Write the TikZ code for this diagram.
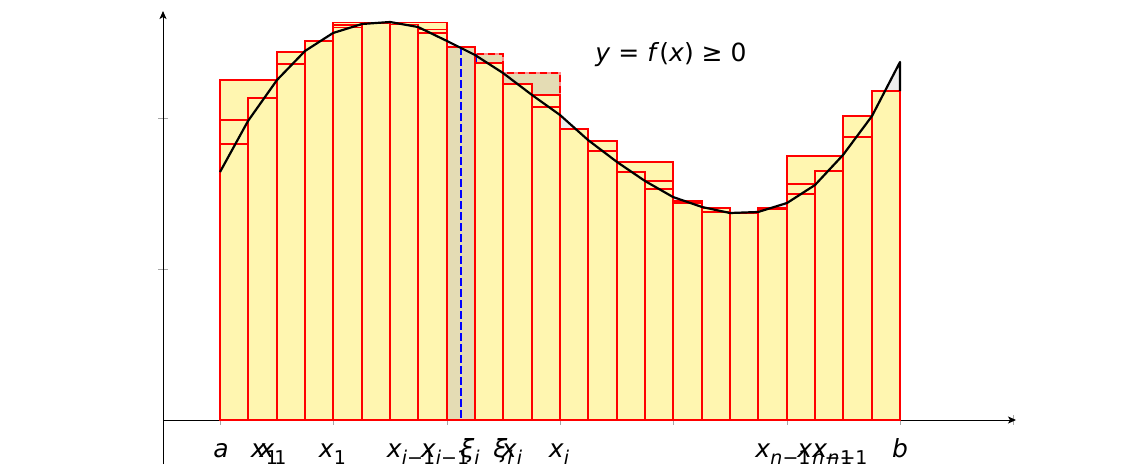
\documentclass[tikz,border=0pt]{standalone}
\usepackage{fontspec}
\setmainfont{DejaVu Sans}
\usetikzlibrary{arrows.meta}
\definecolor{barfill}{HTML}{FFF6B0}
\definecolor{hlfill}{HTML}{E4DCB4}
\definecolor{areafill}{HTML}{EDEDED}

% lowered small text for indices
\newcommand\lsub[1]{\raisebox{-0.28em}{\fontsize{19}{19}\selectfont #1}}
% one bar over fine strips #2..#3, top at #4
\newcommand\riem[4][bar]{\filldraw[#1] ({round(220+85/3*#2)},420) rectangle ({round(220+85/3*#3)},#4);}
\newcommand\curvepath{(220,172) -- (248,121) -- (277,80) -- (305,51) -- (333,33)
  -- (362,24) -- (390,22) -- (418,27) -- (447,41) -- (475,55) -- (503,73)
  -- (532,95) -- (560,115) -- (588,140) -- (617,162) -- (645,181) -- (673,197)
  -- (702,207) -- (730,213) -- (758,212) -- (787,203) -- (815,185) -- (843,155)
  -- (872,116) -- (900,62)}

\begin{document}
\begin{tikzpicture}[x=1pt, y=-1pt,
  bar/.style={fill=barfill, draw=red, line width=1.2pt},
  hl/.style={fill=hlfill, draw=red!45, line width=1.2pt,
             postaction={draw=red, line width=1.2pt, dash pattern=on 7pt off 4pt}},
  hlstrip/.style={fill=hlfill, draw=red, line width=1.2pt},
  curve/.style={line width=2.2pt, line join=round},
  axis/.style={line width=1pt, -{Stealth[length=8pt,width=7pt,inset=2pt]}},
  tick/.style={gray!70, line width=1pt},
  xi/.style={blue, line width=1.6pt, dash pattern=on 8pt off 3pt},
  lbl/.style={anchor=base, inner sep=0pt, font=\fontsize{25}{25}\selectfont},
]
\useasboundingbox (0,0) rectangle (1139,464);

\coordinate (O) at (163,420);
\coordinate (xend) at (1016,420);
\coordinate (ybot) at (163,464);
\coordinate (yend) at (163,11);

% ticks and axes
\foreach \t in {0,...,7}
  \draw[tick] ({round(220+340/3*\t)},415) -- ++(0,10);
\foreach \t in {118,269}
  \draw[tick] (158,\t) -- ++(10,0);
\draw[axis] (O) -- (xend);
\draw[axis] (ybot) -- (yend);

% area under the graph
\fill[areafill] \curvepath -- (900,420) -- (220,420) -- cycle;

% marked strips
\riem[hl]{8}{12}{73}
\riem[hl]{8}{10}{54}
\draw[xi] (476,54) -- (476,420);

% bars, tallest first
\riem{4}{8}{22.5}
\riem{5}{6}{23}
\riem{6}{7}{24.5}
\riem{4}{5}{25}
\riem{4}{5}{27.5}
\riem{7}{8}{29.5}
\riem{7}{8}{33}
\riem{3}{4}{41}
\riem{2}{3}{52}
\riem{9}{10}{63}
\riem{2}{3}{64}
\riem{0}{2}{80}
\riem{10}{11}{84}
\riem{23}{24}{91}
\riem{11}{12}{95}
\riem{1}{2}{98}
\riem{11}{12}{107}
\riem{22}{23}{116}
\riem{0}{1}{120}
\riem{12}{13}{129}
\riem{22}{23}{137}
\riem{13}{14}{141}
\riem{0}{1}{144}
\riem{13}{14}{151}
\riem{20}{22}{156}
\riem{14}{16}{162}
\riem{21}{22}{171}
\riem{14}{15}{172}
\riem{15}{16}{181}
\riem{20}{21}{184}
\riem{15}{16}{189}
\riem{20}{21}{194}
\riem{16}{17}{201}
\riem{16}{17}{203}
\riem{17}{18}{208}
\riem{19}{20}{208}
\riem{19}{20}{209.5}
\riem{17}{18}{212}
\riem{18}{19}{213}

\riem[hlstrip]{8}{9}{47}
\draw[xi] (461,47) -- (461,420);

% graph
\draw[curve] \curvepath -- (900,91);

% labels
\node[lbl] (fx) at (671,61) {\textit{y} = \textit{f}(\textit{x}) ≥ 0};
\node[lbl] (la) at (221,457) {\textit{a}};
\node[lbl] (lx1a) at (264.5,457) {\textit{x}\lsub{1}};
\node[lbl] (lx1b) at (273,457) {\textit{x}\lsub{1}};
\node[lbl] (lx1c) at (332.5,457) {\textit{x}\lsub{1}};
\node[lbl] (lxima) at (411,457) {\textit{x}\lsub{\textit{i}−1}};
\node[lbl] (lximb) at (445,457) {\textit{x}\lsub{\textit{i}−1}};
\node[lbl] (lxia) at (470,457) {\textit{ξ}\lsub{\textit{i}}};
\node[lbl] (lxib) at (503,457) {\textit{ξ}\lsub{\textit{i}}};
\node[lbl] (lxa) at (512,457) {\textit{x}\lsub{\textit{i}}};
\node[lbl] (lxb) at (559,457) {\textit{x}\lsub{\textit{i}}};
\node[lbl] (lxna) at (783,457) {\textit{x}\lsub{\textit{n}−1}};
\node[lbl] (lxnb) at (825,457) {\textit{x}\lsub{\textit{n}−1}};
\node[lbl] (lxnc) at (840,457) {\textit{x}\lsub{\textit{n}−1}};
\node[lbl] (lb) at (900,457) {\textit{b}};
\end{tikzpicture}
\end{document}
